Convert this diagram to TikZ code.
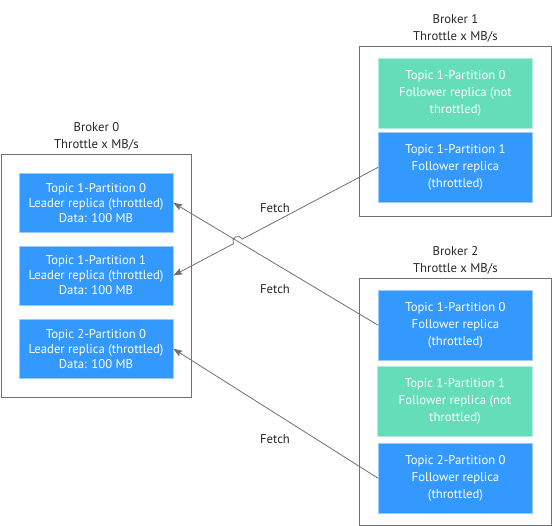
\documentclass[tikz,border=0pt]{standalone}
\usepackage{fontspec}
\setmainfont{PT Sans}
\usetikzlibrary{arrows.meta,calc}
\definecolor{bblue}{RGB}{51,153,255}
\definecolor{bgreen}{RGB}{102,221,185}
\definecolor{lgray}{RGB}{112,112,112}
\definecolor{txt}{RGB}{38,38,38}
\begin{document}
\begin{tikzpicture}[x=1pt,y=-1pt,
  outer/.style={draw=lgray, line width=0.9pt, inner sep=0pt},
  rep/.style={minimum width=154pt, inner sep=0pt, align=center, text=white, font=\fontsize{12.7}{16.7}\selectfont},
  repz/.style={rep, font=\fontsize{12.7}{15}\selectfont},
  thr/.style={fill=bblue, draw=bblue!50!white, line width=0.6pt},
  nthr/.style={fill=bgreen, draw=bgreen!50!white, line width=0.6pt},
  lbl/.style={text=txt, align=center, inner sep=0pt, font=\fontsize{12.7}{16.7}\selectfont},
  fetchlbl/.style={text=txt, inner sep=0pt, font=\fontsize{12.7}{14}\selectfont},
  fetch/.style={draw=lgray, line width=0.8pt, -{Stealth[length=9pt,width=6.5pt,inset=1.5pt]}}]

\useasboundingbox (0,0) rectangle (552,526);

% outer broker boxes
\node[outer, minimum width=190pt, minimum height=243pt, anchor=north west] (B0) at (1,154) {};
\node[outer, minimum width=192pt, minimum height=170.5pt, anchor=north west] (B1) at (359,46) {};
\node[outer, minimum width=192pt, minimum height=247pt, anchor=north west] (B2) at (359,278) {};

\node[lbl, anchor=south, yshift=4pt] (L0) at (B0.north) {Broker 0\\Throttle x MB/s};
\node[lbl, anchor=south, yshift=4pt] (L1) at (B1.north) {Broker 1\\Throttle x MB/s};
\node[lbl, anchor=south, yshift=4pt] (L2) at (B2.north) {Broker 2\\Throttle x MB/s};

% broker 0
\node[repz, thr, minimum height=59pt] (b01) at (96,202.8) {Topic 1-Partition 0\\Leader replica (throttled)\\Data: 100 MB};
\node[repz, thr, minimum height=59pt] (b02) at (96,275.5) {Topic 1-Partition 1\\Leader replica (throttled)\\Data: 100 MB};
\node[repz, thr, minimum height=59pt] (b03) at (96,348.8) {Topic 2-Partition 0\\Leader replica (throttled)\\Data: 100 MB};

% broker 1
\node[rep, nthr, minimum height=70pt] (b11) at (455.5,93.3) {Topic 1-Partition 0\\Follower replica (not\\throttled)};
\node[rep, thr, minimum height=70pt] (b12) at (455.5,167.3) {Topic 1-Partition 1\\Follower replica\\(throttled)};

% broker 2
\node[rep, thr, minimum height=69.3pt] (b21) at (455.5,325.3) {Topic 1-Partition 0\\Follower replica\\(throttled)};
\node[rep, nthr, minimum height=69.3pt, minimum width=155.4pt] (b22) at (455,401.3) {Topic 1-Partition 1\\Follower replica (not\\throttled)};
\node[rep, thr, minimum height=70pt] (b23) at (455.5,478.3) {Topic 2-Partition 0\\Follower replica\\(throttled)};

% fetch labels
\node[fetchlbl] (f1) at (275,208) {Fetch};
\node[fetchlbl] (f2) at (275,289) {Fetch};
\node[fetchlbl] (f3) at (275,439) {Fetch};

% connectors
\coordinate (X) at (intersection of b12.west--b02.east and b21.west--b01.east);
\draw[fetch] (b21.west) -- (b01.east);
\draw[fetch] let \p1=($(b02.east)-(b12.west)$), \n1={atan2(\y1,\x1)} in
  (b12.west) -- ($(X)!5pt!(b12.west)$)
  arc[start angle=\n1+180, end angle=\n1+360, radius=5pt] -- (b02.east);
\draw[fetch] (b23.west) -- (b03.east);
\end{tikzpicture}
\end{document}
